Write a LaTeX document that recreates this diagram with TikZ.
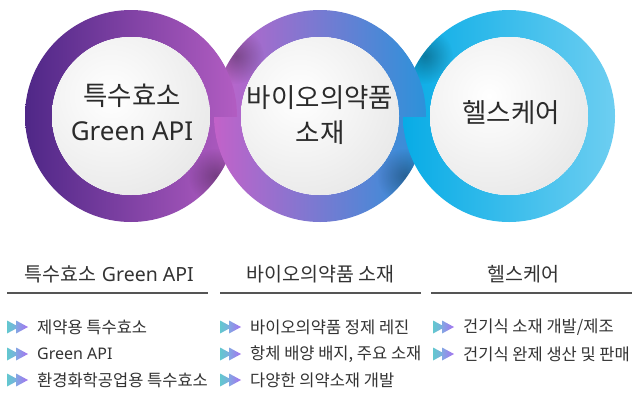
\documentclass[tikz,border=0pt]{standalone}
\usepackage{fontspec}
\newfontfamily\kr{Noto Sans CJK KR}
\newfontfamily\lat{Noto Sans}
\usetikzlibrary{fadings,calc}
\tikzfading[name=softspot,inner color=transparent!0,outer color=transparent!100]
\definecolor{pa}{HTML}{4F2787}
\definecolor{pb}{HTML}{B25DC2}
\definecolor{qa}{HTML}{C262C9}
\definecolor{qb}{HTML}{2C92DA}
\definecolor{ra}{HTML}{08ACE6}
\definecolor{rb}{HTML}{6DCEF1}
\definecolor{txt}{HTML}{2B2B2B}
\definecolor{btxt}{HTML}{333333}
\definecolor{rulec}{HTML}{555555}
\definecolor{ba}{HTML}{62C8CF}
\definecolor{bm}{HTML}{83A6E3}
\definecolor{bb}{HTML}{A572F0}
\newcommand\myring[3]{\shade[left color=#2,right color=#3,even odd rule] (#1) circle[radius=106pt] (#1) circle[radius=79pt];}
\newcommand\mydisc[1]{\begin{scope}\clip (#1) circle[radius=79pt];
  \fill[white] (#1) circle[radius=79pt];
  \shade[inner color=white,outer color=black!9] ($(#1)+(-20,-20)$) circle[radius=112pt];
  \end{scope}}
\newcommand\myshadow[2]{\begin{scope}\clip (#1) circle[radius=106pt];
  \fill[black,fill opacity=0.3,path fading=softspot] (#2) circle[radius=28pt];\end{scope}}
\tikzset{
  ctext/.style={font=\kr\fontsize{26.5}{35}\selectfont,text=txt,align=center,inner sep=0pt},
  htext/.style={font=\kr\fontsize{19.5}{22}\selectfont,text=btxt,inner sep=0pt},
  itext/.style={font=\kr\fontsize{16.5}{18}\selectfont,text=btxt,inner sep=0pt,anchor=west},
  hrule/.style={draw=rulec,line width=1.2pt},
  bul/.pic={
    \shade[left color=ba,right color=bm] (0,-6.5) -- (12,0) -- (0,6.5) -- cycle;
    \shade[left color=bm,right color=bb] (9,-6.5) -- (21,0) -- (9,6.5) -- cycle;
  }
}
\begin{document}
\begin{tikzpicture}[x=1pt,y=-1pt]
\useasboundingbox[fill=white] (0,0) rectangle (636,394);
\coordinate (c1) at (131,116);
\coordinate (c2) at (320,116);
\coordinate (c3) at (509,116);
% rings
\myring{c1}{pa}{pb}
\myshadow{c1}{216,176}
\myring{c2}{qa}{qb}
\myshadow{c2}{236,56}
\myshadow{c2}{405,176}
\myring{c3}{ra}{rb}
\myshadow{c3}{425,56}
\begin{scope}\clip (190,0) rectangle (260,116);\myring{c1}{pa}{pb}\end{scope}
\begin{scope}\clip (380,0) rectangle (450,116);\myring{c2}{qa}{qb}\end{scope}
% discs
\mydisc{c1}\mydisc{c2}\mydisc{c3}
\node[ctext] (t1) at (132,112) {특수효소\\{\lat\fontsize{26}{35}\selectfont Green API}};
\node[ctext] (t2) at (320,115) {바이오의약품\\소재};
\node[ctext] (t3) at (511,113) {헬스케어};
% headers
\node[htext] (h1) at (109,274) {특수효소\hspace{6pt}{\lat\fontsize{19.5}{22}\selectfont Green API}};
\node[htext] (h2) at (320.5,274) {바이오의약품 소재};
\node[htext] (h3) at (523.5,274) {헬스케어};
\coordinate (l1a) at (7,293); \coordinate (l1b) at (208,293);
\coordinate (l2a) at (220,293); \coordinate (l2b) at (421,293);
\coordinate (l3a) at (431,293); \coordinate (l3b) at (632,293);
\draw[hrule] (l1a) -- (l1b);
\draw[hrule] (l2a) -- (l2b);
\draw[hrule] (l3a) -- (l3b);
% bullets
\pic at (7,327) {bul}; \pic at (7,354) {bul}; \pic at (7,380) {bul};
\pic at (220,327) {bul}; \pic at (220,354) {bul}; \pic at (220,380) {bul};
\pic at (433,327) {bul}; \pic at (433,354) {bul};
\node[itext] (a1) at (37,327) {제약용 특수효소};
\node[itext] (a2) at (37,354) {\lat\fontsize{16}{18}\selectfont Green API};
\node[itext] (a3) at (37,380) {환경화학공업용 특수효소};
\node[itext] (b1) at (250,327) {바이오의약품 정제 레진};
\node[itext] (b2) at (250,354) {항체 배양 배지, 주요 소재};
\node[itext] (b3) at (250,380) {다양한 의약소재 개발};
\node[itext] (d1) at (463,327) {건기식 소재 개발/제조};
\node[itext] (d2) at (463,354) {건기식 완제 생산 및 판매};
\end{tikzpicture}
\end{document}
